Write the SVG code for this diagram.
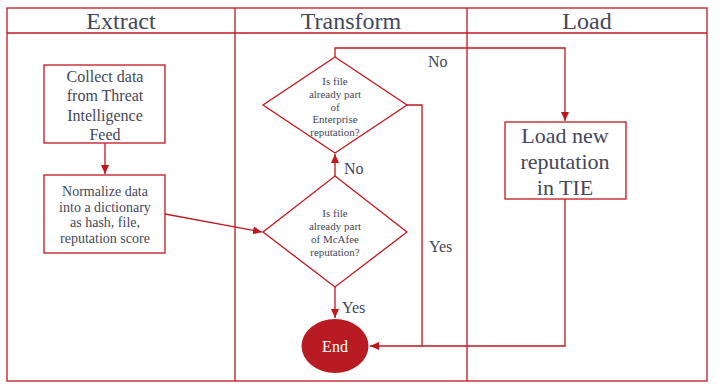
<svg xmlns="http://www.w3.org/2000/svg" width="719" height="390" viewBox="0 0 719 390">
<defs>
<marker id="ah" markerWidth="10" markerHeight="10" refX="9" refY="5" orient="auto" markerUnits="userSpaceOnUse">
<path d="M0,1 L9,5 L0,9 Z" fill="#c0171f"/>
</marker>
<style>
.ln{fill:none;stroke:#c0171f;stroke-width:1.3}
.bx{fill:#fff;stroke:#c0171f;stroke-width:1.3}
.t{fill:#45475a;text-anchor:middle}
.h{font-size:24px}
.b1{font-size:16px}
.b2{font-size:14px}
.d{font-size:11px}
.l{font-size:22px}
.lab{font-size:16px;text-anchor:start}
</style>
</defs>
<rect width="719" height="390" fill="#fff"/>
<g font-family="Liberation Serif, Tinos, Times New Roman, Times, Noto Serif, DejaVu Serif, serif">
<g id="lanes">
<rect x="7" y="8" width="700" height="373" class="ln"/>
<line x1="7" y1="33" x2="707" y2="33" class="ln"/>
<line x1="235" y1="8" x2="235" y2="381" class="ln"/>
<line x1="467" y1="8" x2="467" y2="381" class="ln"/>
<text x="121" y="29" class="t h">Extract</text>
<text x="351" y="29" class="t h">Transform</text>
<text x="587" y="29" class="t h">Load</text>
</g>
<g id="connectors">
<line x1="105" y1="143" x2="105" y2="174" class="ln" marker-end="url(#ah)"/>
<line x1="165" y1="214" x2="262" y2="232" class="ln" marker-end="url(#ah)"/>
<line x1="335" y1="176" x2="335" y2="154" class="ln" marker-end="url(#ah)"/>
<polyline points="335,57 335,48 565,48 565,121" class="ln" marker-end="url(#ah)"/>
<line x1="335" y1="287" x2="335" y2="318" class="ln" marker-end="url(#ah)"/>
<polyline points="407,105 422,105 422,346" class="ln"/>
<polyline points="565,199 565,346 370,346" class="ln" marker-end="url(#ah)"/>
<text x="428" y="67" class="t lab">No</text>
<text x="344" y="174" class="t lab">No</text>
<text x="342" y="313" class="t lab">Yes</text>
<text x="429" y="252" class="t lab">Yes</text>
</g>
<g id="collect">
<rect x="44" y="65" width="121" height="78" class="bx"/>
<text class="t b1"><tspan x="105" y="82">Collect data</tspan><tspan x="105" y="101">from Threat</tspan><tspan x="105" y="121">Intelligence</tspan><tspan x="105" y="140">Feed</tspan></text>
</g>
<g id="normalize">
<rect x="44" y="175" width="121" height="78" class="bx"/>
<text class="t b2"><tspan x="105" y="196">Normalize data</tspan><tspan x="105" y="212">into a dictionary</tspan><tspan x="105" y="227">as hash, file,</tspan><tspan x="105" y="243">reputation score</tspan></text>
</g>
<g id="enterprise">
<polygon points="335,57 407,105 335,153 263,105" class="bx"/>
<text class="t d"><tspan x="335" y="85">Is file</tspan><tspan x="335" y="98">already part</tspan><tspan x="335" y="111">of</tspan><tspan x="335" y="123">Enterprise</tspan><tspan x="335" y="136">reputation?</tspan></text>
</g>
<g id="mcafee">
<polygon points="335,176 407,232 335,287 263,232" class="bx"/>
<text class="t d"><tspan x="335" y="217">Is file</tspan><tspan x="335" y="230">already part</tspan><tspan x="335" y="243">of McAfee</tspan><tspan x="335" y="256">reputation?</tspan></text>
</g>
<g id="loadbox">
<rect x="505" y="122" width="121" height="77" class="bx"/>
<text class="t l"><tspan x="565" y="143">Load new</tspan><tspan x="565" y="169">reputation</tspan><tspan x="565" y="195">in TIE</tspan></text>
</g>
<g id="end">
<ellipse cx="335" cy="346" rx="33.5" ry="27" fill="#b81b22"/>
<text x="335" y="352" class="t b1" fill="#fff" style="fill:#fff">End</text>
</g>
</g>
</svg>
